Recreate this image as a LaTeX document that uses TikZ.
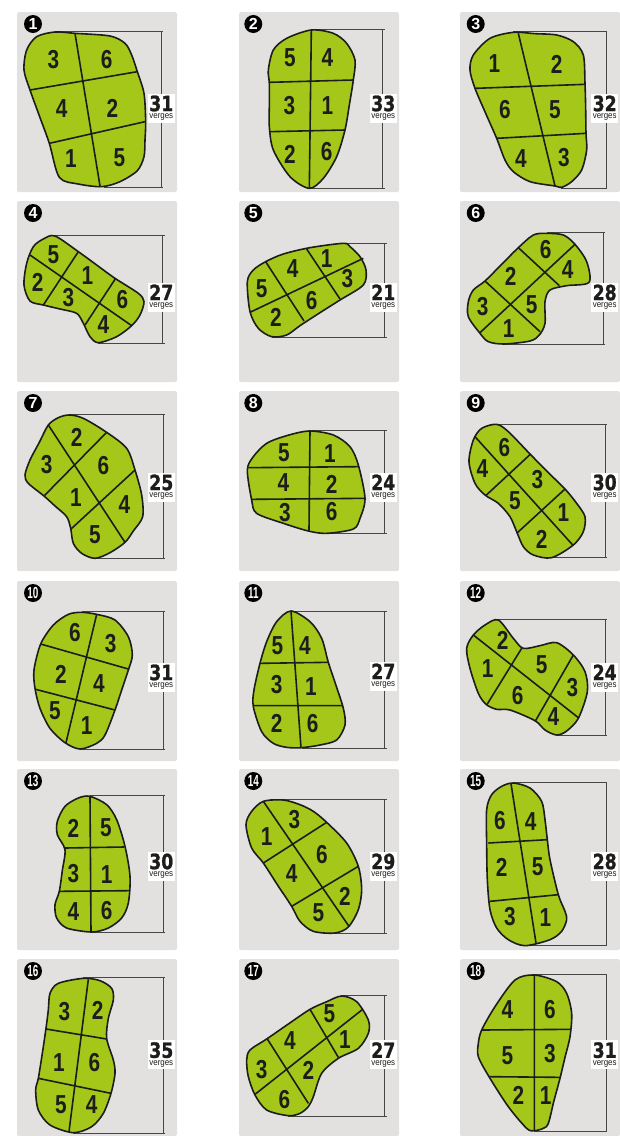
\documentclass[tikz,border=0pt]{standalone}
\usepackage{fontspec}
\usepackage{graphicx}
\setmainfont{Liberation Sans}
\newfontfamily\heavyfont[BoldFeatures={FakeBold=1.2}]{DejaVu Sans}
\usetikzlibrary{calc}
\definecolor{lotgreen}{RGB}{165,199,26}
\definecolor{plategrey}{RGB}{226,225,224}
\definecolor{inkblack}{RGB}{29,29,27}
\definecolor{gaugegrey}{RGB}{70,70,68}
\newcommand{\cells}[2]{\foreach \d/\p/\q in {#2} {\node[cell] (c#1\d) at (\p,\q) {\scalebox{0.8}[1]{\d}};}}

\begin{document}
\begin{tikzpicture}[
    x=1pt, y=-1pt,
    plate/.style={fill=plategrey, rounded corners=1.5pt},
    lot/.style={fill=lotgreen, draw=inkblack, line width=1.6pt, line join=round},
    seam/.style={draw=inkblack, line width=1.6pt},
    gauge/.style={draw=gaugegrey, line width=1pt},
    cell/.style={inner sep=0pt, text=inkblack, font=\fontsize{26}{26}\selectfont\bfseries},
    badge/.style={circle, fill=black, text=white, inner sep=0pt, minimum size=18pt,
                  font=\fontsize{16}{16}\selectfont\bfseries},
    tallybox/.style={fill=white, inner sep=0pt, minimum width=27pt, minimum height=29pt,
                     align=center, text=inkblack, font=\fontsize{9}{7.5}\selectfont},
    zoomed/.style 2 args={shift={(#1,#2)}, x=0.33333pt, y=-0.33333pt}
  ]
    \useasboundingbox (0,0) rectangle (620,1136);

    % plates and round badges
    \foreach \n/\x/\y/\h/\bx in {1/17/12/180/33,2/239/12/180/253.3,3/460/12/180/475.7,
        4/17/201/181/33,5/239/201/181/253.3,6/460/201/181/475.7,
        7/17/391/180/33,8/239/391/180/253.3,9/460/391/180/475.7,
        10/17/581/180/33,11/239/581/180/253.3,12/460/581/180/475.7,
        13/17/769/181/33,14/239/769/181/253.3,15/460/769/181/475.7,
        16/17/959/177/33,17/239/959/177/253.3,18/460/959/177/475.7} {
      \fill[plate] (\x,\y) rectangle ++(160,\h);
      \ifnum\n>9
        \node[badge] (b\n) at (\bx,\y+12) {\scalebox{0.62}[1]{\n}};
      \else
        \node[badge] (b\n) at (\bx,\y+12) {\n};
      \fi
    }

    % lot 1
    \begin{scope}[zoomed={0}{0}]
      \draw[gauge] (165,93) -- (490,93) (484,93) -- (484,562) (312,562) -- (490,562);
      \filldraw[lot] plot[smooth cycle, tension=.5] coordinates {(165,96)(225,100)(330,108)(375,130)(395,165)(412,215)(432,280)(437,365)(435,420)(432,470)(412,512)(360,545)(305,560)(235,552)(178,532)(148,430)(119,350)(90,270)(72,210)(80,150)(110,110)};
      \draw[seam] (225,100) -- (300,558) (90,270) -- (412,215) (148,430) -- (435,365);
      \cells{1}{3/160/178,6/320/180,4/185/325,2/337/325,1/213/475,5/358/472}
    \end{scope}

    % lot 2
    \begin{scope}[zoomed={0}{0}]
      \draw[gauge] (934,88) -- (1155,88) (1148,88) -- (1148,565) (930,565) -- (1155,565);
      \filldraw[lot] plot[smooth cycle, tension=.5] coordinates {(934,90)(1000,100)(1040,130)(1065,180)(1060,240)(1048,315)(1035,390)(1010,470)(970,535)(928,565)(870,530)(820,450)(808,380)(808,315)(808,250)(805,210)(820,150)(860,115)};
      \draw[seam] (934,90) -- (928,565) (808,247) -- (1060,240) (810,395) -- (1035,390);
      \cells{2}{5/870/172,4/982/172,3/868/318,1/982/318,2/870/462,6/980/455}
    \end{scope}

    % lot 3
    \begin{scope}[zoomed={300}{0}]
      \draw[gauge] (640,95) -- (922,95) (918,95) -- (918,565) (782,565) -- (922,565);
      \filldraw[lot] plot[smooth cycle, tension=.5] coordinates {(640,97)(705,101)(770,105)(820,125)(850,165)(855,250)(857,325)(858,400)(860,450)(845,510)(815,545)(785,562)(765,558)(690,545)(640,515)(615,480)(590,415)(557,340)(525,265)(510,210)(520,165)(570,115)};
      \draw[seam] (655,100) -- (765,558) (525,265) -- (855,253) (590,415) -- (858,400);
      \cells{3}{1/583/192,2/770/192,6/615/330,5/765/330,4/663/475,3/792/472}
    \end{scope}

    % lot 4
    \begin{scope}[zoomed={0}{195}]
      \draw[gauge] (165,122) -- (495,122) (488,122) -- (488,445) (295,445) -- (495,445);
      \filldraw[lot] plot[smooth cycle, tension=.5] coordinates {(165,123)(235,170)(290,210)(345,250)(415,295)(432,320)(420,360)(395,392)(350,425)(295,443)(270,425)(250,385)(230,355)(180,342)(130,330)(90,318)(72,270)(80,205)(100,155)(130,132)};
      \draw[seam] (90,180) -- (395,392) (235,170) -- (130,330) (347,250) -- (255,390);
      \cells{4}{5/160/180,2/113/262,1/262/242,3/205/308,6/367/315,4/310/388}
    \end{scope}

    % lot 5
    \begin{scope}[zoomed={0}{195}]
      \draw[gauge] (1030,145) -- (1160,145) (1155,145) -- (1155,427) (815,427) -- (1160,427);
      \filldraw[lot] plot[smooth cycle, tension=.5] coordinates {(815,425)(775,400)(750,350)(742,260)(760,225)(797,200)(850,177)(930,158)(1030,145)(1050,155)(1080,185)(1098,225)(1090,270)(1020,315)(960,353)(900,392)(860,420)};
      \draw[seam] (750,352) -- (1090,190) (797,200) -- (912,378) (920,162) -- (1020,312);
      \cells{5}{4/878/222,5/785/282,2/828/368,6/935/318,1/980/190,3/1042/250}
    \end{scope}

    % lot 6
    \begin{scope}[zoomed={300}{195}]
      \draw[gauge] (740,113) -- (915,113) (910,113) -- (910,447) (612,447) -- (915,447);
      \filldraw[lot] plot[smooth cycle, tension=.5] coordinates {(740,115)(790,120)(825,148)(860,200)(867,262)(800,272)(750,285)(735,320)(735,385)(718,420)(690,438)(612,447)(565,440)(540,415)(505,365)(505,320)(520,285)(555,258)(605,208)(655,158)(700,120)};
      \draw[seam] (655,158) -- (778,272) (555,258) -- (720,410) (825,148) -- (540,413);
      \cells{6}{6/737/165,2/632/243,4/803/225,3/548/335,5/695/330,1/626/400}
    \end{scope}

    % lot 7
    \begin{scope}[zoomed={0}{385}]
      \draw[gauge] (208,88) -- (495,88) (490,88) -- (490,520) (285,520) -- (495,520);
      \filldraw[lot] plot[smooth cycle, tension=.5] coordinates {(208,90)(250,100)(320,142)(380,190)(405,255)(425,330)(428,395)(400,438)(375,472)(330,503)(285,520)(245,505)(220,475)(212,430)(200,395)(165,363)(132,333)(85,295)(75,270)(90,225)(118,172)(145,120)(175,98)};
      \draw[seam] (145,120) -- (375,472) (320,142) -- (132,333) (405,255) -- (213,432);
      \cells{7}{2/230/157,3/140/240,6/310/242,1/228/337,4/373/360,5/285/448}
    \end{scope}

    % lot 8
    \begin{scope}[zoomed={0}{385}]
      \draw[gauge] (935,135) -- (1160,135) (1153,135) -- (1153,445) (980,445) -- (1160,445);
      \filldraw[lot] plot[smooth cycle, tension=.5] coordinates {(928,138)(1000,150)(1050,185)(1075,240)(1095,340)(1080,400)(1060,432)(980,445)(925,438)(850,415)(770,385)(755,345)(742,255)(760,215)(800,175)(860,152)};
      \draw[seam] (930,138) -- (927,437) (745,248) -- (1075,245) (755,343) -- (1095,340);
      \cells{8}{5/852/202,1/990/205,4/850/293,2/995/297,3/855/383,6/995/380}
    \end{scope}

    % lot 9
    \begin{scope}[zoomed={300}{385}]
      \draw[gauge] (590,117) -- (922,117) (917,117) -- (917,518) (755,518) -- (922,518);
      \filldraw[lot] plot[smooth cycle, tension=.5] coordinates {(590,118)(625,140)(690,207)(742,260)(795,312)(830,355)(855,395)(850,440)(820,480)(755,518)(700,510)(670,485)(650,440)(630,395)(595,355)(555,330)(525,295)(507,230)(520,165)(545,130)};
      \draw[seam] (525,155) -- (820,482) (692,207) -- (557,332) (795,312) -- (650,445);
      \cells{9}{6/613/188,4/547/252,3/712/283,5/645/348,1/790/383,2/725/462}
    \end{scope}

    % lot 10
    \begin{scope}[zoomed={0}{575}]
      \draw[gauge] (245,110) -- (495,110) (490,110) -- (490,523) (240,523) -- (495,523);
      \filldraw[lot] plot[smooth cycle, tension=.5] coordinates {(245,112)(290,118)(345,135)(385,185)(397,240)(385,285)(365,345)(345,405)(315,480)(290,505)(240,522)(195,503)(150,460)(120,400)(105,340)(102,285)(122,207)(160,150)(205,118)};
      \draw[seam] (290,118) -- (198,503) (122,207) -- (385,282) (107,343) -- (345,405);
      \cells{10}{6/225/173,3/332/205,2/183/297,4/297/325,5/165/408,1/260/453}
    \end{scope}

    % lot 11
    \begin{scope}[zoomed={0}{575}]
      \draw[gauge] (873,108) -- (1160,108) (1154,108) -- (1154,520) (905,520) -- (1160,520);
      \filldraw[lot] plot[smooth cycle, tension=.5] coordinates {(873,108)(930,140)(965,190)(985,262)(1008,331)(1030,400)(1035,450)(1010,495)(960,510)(905,518)(860,517)(820,505)(785,470)(760,395)(762,345)(780,265)(800,200)(830,140)};
      \draw[seam] (873,108) -- (903,518) (780,265) -- (985,262) (762,392) -- (1028,392);
      \cells{11}{5/832/212,4/915/212,3/830/328,1/933/335,2/830/445,6/938/445}
    \end{scope}

    % lot 12
    \begin{scope}[zoomed={300}{575}]
      \draw[gauge] (595,134) -- (922,134) (917,134) -- (917,480) (770,480) -- (922,480);
      \filldraw[lot] plot[smooth cycle, tension=.5] coordinates {(595,135)(640,190)(670,220)(720,212)(770,203)(820,240)(855,290)(862,350)(835,430)(800,468)(770,480)(735,465)(705,437)(630,405)(590,403)(558,388)(535,355)(510,280)(500,220)(520,180)(555,150)};
      \draw[seam] (520,180) -- (835,428) (665,220) -- (560,390) (820,240) -- (705,440);
      \cells{12}{2/608/197,1/563/280,5/725/270,3/817/338,6/653/362,4/760/425}
    \end{scope}

    % lot 13
    \begin{scope}[zoomed={0}{763}]
      \draw[gauge] (270,98) -- (495,98) (490,98) -- (490,508) (275,508) -- (495,508);
      \filldraw[lot] plot[smooth cycle, tension=.5] coordinates {(270,100)(320,125)(350,170)(375,250)(390,340)(385,420)(365,465)(325,495)(275,507)(200,495)(170,465)(165,425)(178,385)(187,322)(195,260)(172,215)(172,175)(195,130)(235,105)};
      \draw[seam] (270,100) -- (273,507) (195,255) -- (372,252) (177,385) -- (388,383);
      \cells{13}{2/220/195,5/318/195,3/220/333,1/320/335,4/220/445,6/320/443}
    \end{scope}

    % lot 14
    \begin{scope}[zoomed={0}{763}]
      \draw[gauge] (810,108) -- (1160,108) (1155,108) -- (1155,512) (1005,512) -- (1160,512);
      \filldraw[lot] plot[smooth cycle, tension=.5] coordinates {(790,115)(755,145)(738,185)(755,255)(790,300)(832,365)(875,430)(900,475)(940,505)(1005,510)(1045,492)(1075,440)(1085,380)(1075,310)(1040,240)(980,178)(940,145)(900,125)(850,111)};
      \draw[seam] (790,115) -- (1047,490) (980,178) -- (790,300) (1075,310) -- (875,430);
      \cells{14}{3/883/170,1/800/222,6/966/275,4/875/332,5/955/450,2/1035/400}
    \end{scope}

    % lot 15
    \begin{scope}[zoomed={300}{763}]
      \draw[gauge] (640,58) -- (922,58) (918,58) -- (918,548) (675,548) -- (922,548);
      \filldraw[lot] plot[smooth cycle, tension=.5] coordinates {(640,60)(690,75)(725,115)(735,170)(742,230)(750,290)(775,395)(795,445)(800,470)(785,505)(750,530)(675,548)(625,530)(590,495)(570,440)(562,350)(560,245)(560,140)(575,95)(605,70)};
      \draw[seam] (633,62) -- (708,540) (565,240) -- (742,230) (570,415) -- (775,395);
      \cells{15}{6/600/172,4/692/175,2/605/313,5/713/310,3/630/460,1/736/465}
    \end{scope}

    % lot 16
    \begin{scope}[zoomed={0}{950}]
      \draw[gauge] (250,83) -- (495,83) (490,83) -- (490,550) (220,550) -- (495,550);
      \filldraw[lot] plot[smooth cycle, tension=.5] coordinates {(250,85)(300,92)(335,115)(340,150)(325,205)(320,265)(340,330)(345,370)(333,430)(310,490)(275,530)(220,548)(150,525)(115,480)(107,420)(115,385)(127,310)(138,235)(145,180)(150,130)(175,100)};
      \draw[seam] (265,88) -- (207,545) (138,237) -- (320,267) (115,385) -- (333,430);
      \cells{16}{3/193/185,2/293/182,1/177/337,6/283/337,5/183/465,4/275/465}
    \end{scope}

    % lot 17
    \begin{scope}[zoomed={0}{950}]
      \draw[gauge] (1025,136) -- (1160,136) (1153,136) -- (1153,498) (865,498) -- (1160,498);
      \filldraw[lot] plot[smooth cycle, tension=.5] coordinates {(740,330)(750,300)(800,267)(865,222)(930,178)(978,156)(1025,138)(1070,155)(1105,210)(1105,250)(1075,295)(1015,325)(965,370)(940,440)(925,470)(900,490)(865,497)(800,480)(765,435)(745,380)};
      \draw[seam] (802,267) -- (925,460) (930,178) -- (1015,322) (765,433) -- (1088,178);
      \cells{17}{4/870/272,3/785/358,6/853/450,2/925/360,5/988/192,1/1035/270}
    \end{scope}

    % lot 18
    \begin{scope}[zoomed={300}{950}]
      \draw[gauge] (703,73) -- (922,73) (918,73) -- (918,545) (703,545) -- (922,545);
      \filldraw[lot] plot[smooth cycle, tension=.5] coordinates {(703,75)(770,95)(800,130)(815,190)(810,260)(795,322)(780,385)(762,452)(745,520)(730,535)(703,542)(680,535)(625,470)(567,380)(535,320)(535,280)(545,240)(585,170)(645,90)};
      \draw[seam] (703,75) -- (703,542) (545,240) -- (812,238) (567,380) -- (780,382);
      \cells{18}{4/622/178,6/750/178,5/622/318,3/750/312,2/655/437,1/737/437}
    \end{scope}

    % counts on the gauges
    \foreach \n/\x/\y/\v in {1/161.3/108/31,2/383.3/108/33,3/604.7/108/32,
        4/161.3/297/27,5/383.3/297/21,6/604.7/297/28,
        7/161.3/487/25,8/383.3/487/24,9/604.7/487/30,
        10/161.3/677/31,11/383.3/676/27,12/604.7/677/24,
        13/161.3/866/30,14/383.3/866/29,15/604.7/866/28,
        16/161.3/1054.7/35,17/383.3/1054.7/27,18/604.7/1054.7/31} {
      \node[tallybox] (t\n) at (\x,\y) {{\fontsize{21}{21}\selectfont\heavyfont\bfseries\scalebox{0.82}[1]{\v}}\\\scalebox{0.88}[1]{verges}};
    }
  \end{tikzpicture}
\end{document}
